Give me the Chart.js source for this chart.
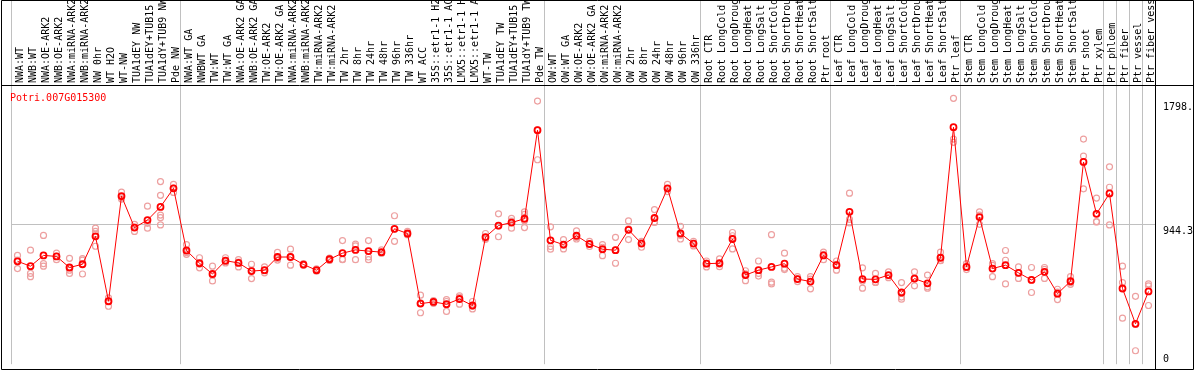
<!DOCTYPE html>
<html>
<head>
<meta charset="utf-8">
<script src="https://cdn.jsdelivr.net/npm/chart.js@4"></script>
<style>
  body { margin: 0; background: #fff; }
  canvas { display: block; }
</style>
</head>
<body>
<canvas id="expr" width="1194" height="370"></canvas>
<script>
const geneName = "Potri.007G015300";

const categories = [
  "NWA:WT", "NWB:WT", "NWA:OE-ARK2", "NWB:OE-ARK2", "NWA:miRNA-ARK2", "NWB:miRNA-ARK2",
  "NW 0hr", "WT H2O", "WT-NW", "TUA1dEY NW", "TUA1dEY+TUB15 NW", "TUA1dY+TUB9 NW", "Pde NW",
  "NWA:WT GA", "NWBWT GA", "TW:WT", "TW:WT GA", "NWA:OE-ARK2 GA", "NWB:OE-ARK2 GA",
  "TW:OE-ARK2", "TW:OE-ARK2 GA", "NWA:miRNA-ARK2 GA", "NWB:miRNA-ARK2 GA", "TW:miRNA-ARK2",
  "TW:miRNA-ARK2 GA", "TW 2hr", "TW 8hr", "TW 24hr", "TW 48hr", "TW 96hr", "TW 336hr", "WT ACC",
  "35S::etr1-1 H2O", "35S::etr1-1 ACC", "LMX5::etr1-1 H2O", "LMX5::etr1-1 ACC", "WT-TW",
  "TUA1dEY TW", "TUA1dEY+TUB15 TW", "TUA1dY+TUB9 TW", "Pde TW",
  "OW:WT", "OW:WT GA", "OW:OE-ARK2", "OW:OE-ARK2 GA", "OW:miRNA-ARK2", "OW:miRNA-ARK2 GA",
  "OW 2hr", "OW 8hr", "OW 24hr", "OW 48hr", "OW 96hr", "OW 336hr",
  "Root CTR", "Root LongCold", "Root LongDrought", "Root LongHeat", "Root LongSalt",
  "Root ShortCold", "Root ShortDrought", "Root ShortHeat", "Root ShortSalt", "Ptr root",
  "Leaf CTR", "Leaf LongCold", "Leaf LongDrought", "Leaf LongHeat", "Leaf LongSalt",
  "Leaf ShortCold", "Leaf ShortDrought", "Leaf ShortHeat", "Leaf ShortSalt", "Ptr leaf",
  "Stem CTR", "Stem LongCold", "Stem LongDrought", "Stem LongHeat", "Stem LongSalt",
  "Stem ShortCold", "Stem ShortDrought", "Stem ShortHeat", "Stem ShortSalt", "Ptr shoot", "Ptr xylem",
  "Ptr phloem", "Ptr fiber", "Ptr vessel", "Ptr fiber vessel"
];

// index of the first sample of every group (gray separator lines)
const groupStarts = [0, 13, 41, 53, 63, 73, 84, 85, 86, 87];

const means = [
  696, 663, 736, 729, 654, 676, 865, 426, 1137, 924, 975, 1064, 1190,
  769, 683, 610, 700, 685, 630, 636, 725, 725, 674, 636, 710, 751, 773, 765, 758,
  916, 884, 410, 421, 406, 441, 397, 860, 938, 958, 984, 1583,
  838, 809, 869, 813, 778, 771, 909, 816, 989, 1190, 884, 816,
  680, 683, 847, 603, 636, 658, 680, 576, 559, 736,
  670, 1031, 576, 574, 603, 485, 579, 547, 720, 1603,
  658, 995, 647, 670, 618, 570, 625, 477, 561, 1368, 1017,
  1155, 512, 273, 492
];

const rep1 = [
  736, 771, 871, 751, 716, 714, 920, 448, 1164, 946, 1069, 1235, 1217,
  809, 720, 663, 720, 707, 676, 658, 756, 778, 680, 645, 718, 836, 812, 836, 773,
  1004, 898, 467, 430, 437, 463, 424, 884, 1017, 986, 1031, 1780,
  929, 843, 902, 831, 809, 858, 969, 831, 1046, 1217, 933, 831,
  698, 712, 891, 632, 698, 876, 751, 592, 592, 758,
  698, 1157, 652, 614, 625, 552, 625, 603, 758, 1798.67,
  680, 1031, 680, 769, 658, 654, 654, 507, 592, 1523, 1124,
  1335, 663, 459, 543
];

const rep2 = [
  647, 614, 680, 707, 636, 610, 898, 421, 1117, 898, 953, 1142, 1162,
  743, 652, 563, 685, 658, 579, 618, 715, 670, 670, 628, 702, 707, 800, 725, 750,
  831, 876, 348, 412, 357, 406, 374, 845, 862, 920, 1013, 1383,
  796, 780, 847, 796, 734, 683, 843, 791, 962, 1168, 847, 800,
  658, 660, 869, 565, 596, 543, 640, 559, 510, 707,
  636, 980, 514, 555, 585, 454, 530, 514, 700, 1523,
  640, 946, 592, 703, 580, 485, 580, 437, 540, 1408, 962,
  1197, 552, 91, 530
];

const rep3 = [
  705, 592, 663, 729, 614, 704, 798, 392, 1130, 928, 920, 1009, 1191,
  755, 677, 604, 695, 690, 635, 632, 704, 727, 672, 635, 710, 710, 707, 707, 751,
  913, 878, 415, 421, 424, 454, 393, 851, 935, 968, 970, 1586,
  778, 804, 858, 812, 791, 772, 915, 826, 959, 1185, 872, 817,
  684, 677, 780, 612, 614, 555, 649, 577, 575, 743,
  676, 956, 562, 553, 599, 440, 582, 524, 702, 1501,
  654, 1008, 669, 543, 616, 571, 641, 487, 551, 1186, 965,
  942, 311, 269, 397
];

// a few samples have more than three replicates
const rep4 = new Array(categories.length).fill(null);
rep4[6] = 880; rep4[11] = 991; rep4[39] = 924;
const rep5 = new Array(categories.length).fill(null);
rep5[11] = 942;

const yMax = 1888.6;
const yTickValues = [0, 944.3, 1798.67];
const yTickLabels = ["0", "944.3", "1798."];
const yLabelShift = [-10, 2, 4];

const monoFont = "DejaVu Sans Mono";
const gridGray = "#c0c0c0";
const repColor = "#eda0a0";

function repDataset(values) {
  return {
    data: values,
    showLine: false,
    pointRadius: 3,
    pointBorderWidth: 1.2,
    pointBorderColor: repColor,
    pointBackgroundColor: "rgba(0,0,0,0)",
    borderColor: repColor,
  };
}

// frame, gene name and right-hand value labels
const framePlugin = {
  id: "frame",
  afterDraw(chart) {
    const ctx = chart.ctx;
    const y = chart.scales.y;
    const area = chart.chartArea;
    ctx.save();
    ctx.strokeStyle = "#000";
    ctx.lineWidth = 1;
    ctx.beginPath();
    ctx.rect(1.5, 0.5, 1192, 369);
    ctx.moveTo(1.5, area.top + 0.5);
    ctx.lineTo(1193.5, area.top + 0.5);
    ctx.moveTo(area.right + 0.5, 0.5);
    ctx.lineTo(area.right + 0.5, 369.5);
    ctx.stroke();

    ctx.font = "10px '" + monoFont + "'";
    ctx.textBaseline = "top";
    ctx.textAlign = "left";
    ctx.fillStyle = "#ff0000";
    ctx.fillText(geneName, 10, area.top + 8);

    ctx.fillStyle = "#000";
    yTickValues.forEach((v, i) => {
      ctx.fillText(yTickLabels[i], area.right + 8, y.getPixelForValue(v) + yLabelShift[i]);
    });
    ctx.restore();
  },
};

new Chart(document.getElementById("expr"), {
  type: "line",
  data: {
    labels: categories,
    datasets: [
      {
        data: means,
        borderColor: "#ff0000",
        borderWidth: 1,
        tension: 0,
        pointRadius: 3,
        pointBorderWidth: 1.8,
        pointBorderColor: "#ff0000",
        pointBackgroundColor: "rgba(0,0,0,0)",
      },
      repDataset(rep1),
      repDataset(rep2),
      repDataset(rep3),
      repDataset(rep4),
      repDataset(rep5),
    ],
  },
  options: {
    responsive: false,
    animation: false,
    devicePixelRatio: 1,
    layout: { padding: { left: 11, right: 0, top: 0, bottom: 1 } },
    plugins: { legend: { display: false }, tooltip: { enabled: false } },
    scales: {
      x: {
        position: "top",
        offset: true,
        border: { display: false },
        grid: {
          offset: true,
          tickLength: 85,
          color: (c) => (groupStarts.includes(c.index) ? gridGray : "rgba(0,0,0,0)"),
        },
        ticks: {
          autoSkip: false,
          minRotation: 90,
          maxRotation: 90,
          padding: -83,
          labelOffset: 14.5,
          color: "#000",
          font: { family: monoFont, size: 10 },
        },
        afterFit: (s) => { s.height = 85; },
      },
      y: {
        position: "right",
        min: 0,
        max: yMax,
        border: { display: false },
        afterBuildTicks: (s) => { s.ticks = yTickValues.map((v) => ({ value: v })); },
        grid: {
          drawTicks: false,
          color: (c) => (c.tick && c.tick.value === 944.3 ? gridGray : "rgba(0,0,0,0)"),
        },
        ticks: { display: false },
        afterFit: (s) => { s.width = 39; },
      },
    },
  },
  plugins: [framePlugin],
});
</script>
</body>
</html>
